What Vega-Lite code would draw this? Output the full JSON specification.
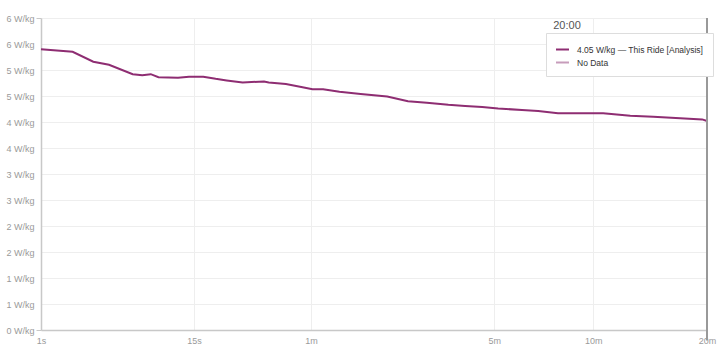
{
  "$schema": "https://vega.github.io/schema/vega-lite/v6.json",
  "autosize": "none",
  "width": 666,
  "height": 312,
  "padding": {"left": 41, "top": 18, "right": 18, "bottom": 27},
  "background": "white",
  "config": {
    "view": {"stroke": null},
    "font": "Liberation Sans",
    "axis": {"labelFont": "Liberation Sans", "labelColor": "#9a9a9a", "labelFontSize": 9, "gridColor": "#eeeeee", "domainColor": "#c8c8c8", "domainWidth": 1.5, "title": null}
  },
  "data": {"values": [
    {"t": 1, "v": 5.40}, {"t": 2, "v": 5.35}, {"t": 3, "v": 5.16}, {"t": 4, "v": 5.10},
    {"t": 6, "v": 4.92}, {"t": 7, "v": 4.90}, {"t": 8, "v": 4.92}, {"t": 9, "v": 4.86},
    {"t": 12, "v": 4.85}, {"t": 14, "v": 4.87}, {"t": 17, "v": 4.87}, {"t": 20, "v": 4.83},
    {"t": 23, "v": 4.80}, {"t": 28, "v": 4.76}, {"t": 36, "v": 4.78}, {"t": 38, "v": 4.76},
    {"t": 46, "v": 4.73}, {"t": 55, "v": 4.67}, {"t": 61, "v": 4.63}, {"t": 68, "v": 4.63},
    {"t": 80, "v": 4.58}, {"t": 98, "v": 4.54}, {"t": 125, "v": 4.49}, {"t": 150, "v": 4.40},
    {"t": 176, "v": 4.37}, {"t": 210, "v": 4.33}, {"t": 240, "v": 4.31}, {"t": 274, "v": 4.29},
    {"t": 309, "v": 4.26}, {"t": 368, "v": 4.23}, {"t": 413, "v": 4.21}, {"t": 474, "v": 4.17},
    {"t": 557, "v": 4.17}, {"t": 640, "v": 4.17}, {"t": 760, "v": 4.12}, {"t": 875, "v": 4.10},
    {"t": 1028, "v": 4.07}, {"t": 1168, "v": 4.05}, {"t": 1200, "v": 4.02}
  ]},
  "layer": [
    {
      "mark": {"type": "line", "strokeWidth": 2},
      "encoding": {
        "x": {"field": "t", "type": "quantitative",
          "scale": {"type": "pow", "exponent": 0.2, "domain": [1, 1200], "nice": false, "zero": false},
          "axis": {"values": [1, 15, 60, 300, 600, 1200], "tickCount": 20, "ticks": false, "labelPadding": 6, "labelFlush": false,
            "labelExpr": "datum.value < 60 ? datum.value + 's' : (datum.value / 60) + 'm'"}},
        "y": {"field": "v", "type": "quantitative",
          "scale": {"domain": [0, 6], "nice": false},
          "axis": {"values": [0, 0.5, 1, 1.5, 2, 2.5, 3, 3.5, 4, 4.5, 5, 5.5, 6], "tickCount": 20,
            "labelExpr": "round(datum.value) + ' W/kg'", "tickSize": 5, "labelPadding": 2, "labelOverlap": false,
            "tickColor": {"condition": {"test": "datum.value == 0 || datum.value == 6", "value": "#c8c8c8"}, "value": "transparent"}}},
        "color": {"datum": "4.05 W/kg — This Ride [Analysis]", "type": "nominal",
          "scale": {"domain": ["4.05 W/kg — This Ride [Analysis]", "No Data"], "range": ["#8e2d72", "#c79cbb"]},
          "legend": {"orient": "none", "legendX": 505, "legendY": 15, "title": null, "padding": 9,
            "fillColor": "white", "strokeColor": "#dddddd", "symbolType": "stroke", "symbolSize": 169,
            "symbolStrokeWidth": 2, "labelFont": "Liberation Sans", "labelFontSize": 8.5, "labelColor": "#333333",
            "labelOffset": 7, "rowPadding": 1}}
      }
    },
    {
      "data": {"values": [{}]},
      "mark": {"type": "rule", "color": "#999999", "strokeWidth": 2},
      "encoding": {"x": {"datum": 1200, "type": "quantitative"}, "y": {"datum": 6}, "y2": {"datum": -0.2}}
    },
    {
      "data": {"values": [{}]},
      "mark": {"type": "text", "text": "20:00", "color": "#555555", "fontSize": 11, "font": "Liberation Sans", "dx": -140, "dy": 8, "baseline": "middle"},
      "encoding": {"x": {"datum": 1200, "type": "quantitative"}, "y": {"datum": 6}}
    }
  ]
}
